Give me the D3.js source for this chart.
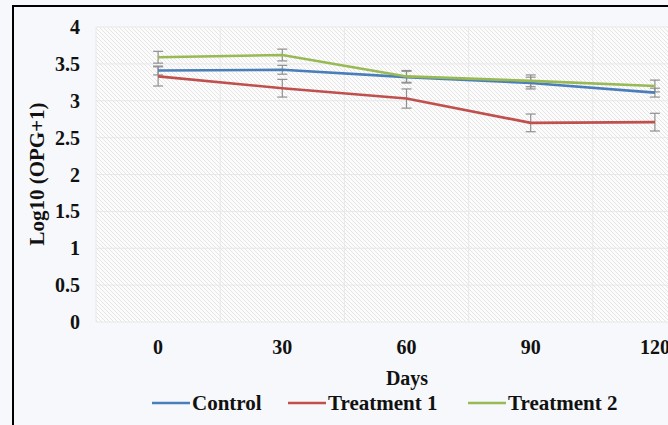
<!DOCTYPE html>
<html>
<head>
<meta charset="utf-8">
<script src="https://cdn.jsdelivr.net/npm/d3@7"></script>
<style>
  body { margin: 0; background: #f6f8fb; }
  svg { display: block; }
  text { font-family: "Liberation Serif", "Times New Roman", serif; font-weight: bold; fill: #111; }
</style>
</head>
<body>
<div id="chart"></div>
<script>
// data
var days = ["0", "30", "60", "90", "120"];
var control = [3.41, 3.42, 3.32, 3.24, 3.11];
var treatment1 = [3.33, 3.17, 3.03, 2.70, 2.71];
var treatment2 = [3.59, 3.62, 3.33, 3.27, 3.20];
var controlErr = [0.06, 0.06, 0.08, 0.08, 0.06];
var treatment1Err = [0.13, 0.12, 0.13, 0.12, 0.12];
var treatment2Err = [0.08, 0.08, 0.08, 0.08, 0.08];
var yTicks = [0, 0.5, 1, 1.5, 2, 2.5, 3, 3.5, 4];
var seriesNames = ["Control", "Treatment 1", "Treatment 2"];

var width = 668, height = 425;
var colors = ["#4a7ebb", "#c0504d", "#98b954"];

var series = [
  { name: seriesNames[0], values: control, err: controlErr },
  { name: seriesNames[1], values: treatment1, err: treatment1Err },
  { name: seriesNames[2], values: treatment2, err: treatment2Err }
];

var svg = d3.select("#chart")
  .append("svg")
  .attr("width", width)
  .attr("height", height);

// hatch pattern for the plot area
var defs = svg.append("defs");
var pat = defs.append("pattern")
  .attr("id", "hatch")
  .attr("patternUnits", "userSpaceOnUse")
  .attr("width", 4)
  .attr("height", 4);
pat.append("rect").attr("width", 4).attr("height", 4).attr("fill", "#fcfcfc");
pat.append("path")
  .attr("d", "M-1,-1 L5,5 M-1,3 L1,5 M3,-1 L5,1")
  .attr("stroke", "#e5e5e5")
  .attr("stroke-width", 1);

// outer frame (right and bottom edges fall outside the picture)
svg.append("rect")
  .attr("x", 13).attr("y", 6)
  .attr("width", 700).attr("height", 440)
  .attr("fill", "#f6f8fb")
  .attr("stroke", "#000")
  .attr("stroke-width", 2);

var x = d3.scaleBand()
  .domain(days)
  .range([96, 96 + 5 * 124.2]);

var y = d3.scaleLinear()
  .domain([0, 4])
  .range([322, 27]);

// plot area
svg.append("rect")
  .attr("x", x.range()[0])
  .attr("y", y(4))
  .attr("width", x.range()[1] - x.range()[0])
  .attr("height", y(0) - y(4))
  .attr("fill", "url(#hatch)");

// grid lines
svg.append("g")
  .selectAll("line")
  .data(yTicks)
  .enter().append("line")
  .attr("x1", x.range()[0])
  .attr("x2", x.range()[1])
  .attr("y1", function(d) { return y(d); })
  .attr("y2", function(d) { return y(d); })
  .attr("stroke", "#e8e8e8")
  .attr("stroke-width", 1);

svg.append("g")
  .selectAll("line")
  .data(days)
  .enter().append("line")
  .attr("x1", function(d) { return x(d); })
  .attr("x2", function(d) { return x(d); })
  .attr("y1", y(0))
  .attr("y2", y(4))
  .attr("stroke", "#e8e8e8")
  .attr("stroke-width", 1);

// y tick labels
svg.append("g")
  .selectAll("text")
  .data(yTicks)
  .enter().append("text")
  .attr("x", 80)
  .attr("y", function(d) { return y(d) + 7; })
  .attr("text-anchor", "end")
  .style("font-size", "20px")
  .text(function(d) { return d; });

// x tick labels (last one is cut by the picture edge, as in the source)
svg.append("g")
  .selectAll("text")
  .data(days)
  .enter().append("text")
  .attr("x", function(d) { return x(d) + x.bandwidth() / 2; })
  .attr("y", 354)
  .attr("text-anchor", "middle")
  .style("font-size", "20px")
  .text(function(d) { return d; });

// axis titles
svg.append("text")
  .attr("x", 407)
  .attr("y", 385)
  .attr("text-anchor", "middle")
  .style("font-size", "20px")
  .text("Days");

svg.append("text")
  .attr("transform", "translate(44,174) rotate(-90)")
  .attr("text-anchor", "middle")
  .style("font-size", "21px")
  .text("Log10 (OPG+1)");

var cx = function(i) { return x(days[i]) + x.bandwidth() / 2; };

var line = d3.line()
  .x(function(d, i) { return cx(i); })
  .y(function(d) { return y(d); });

// error bars
series.forEach(function(s) {
  var g = svg.append("g")
    .attr("stroke", "#8f8f8f")
    .attr("stroke-width", 1.2);
  s.values.forEach(function(v, i) {
    g.append("line")
      .attr("x1", cx(i)).attr("x2", cx(i))
      .attr("y1", y(v - s.err[i])).attr("y2", y(v + s.err[i]));
    [v - s.err[i], v + s.err[i]].forEach(function(e) {
      g.append("line")
        .attr("x1", cx(i) - 5).attr("x2", cx(i) + 5)
        .attr("y1", y(e)).attr("y2", y(e));
    });
  });
});

// series lines
series.forEach(function(s, k) {
  svg.append("path")
    .datum(s.values)
    .attr("d", line)
    .attr("fill", "none")
    .attr("stroke", colors[k])
    .attr("stroke-width", 2.6);
});

// legend
var legendX = [152, 288, 468];
var legend = svg.append("g");
series.forEach(function(s, k) {
  legend.append("line")
    .attr("x1", legendX[k]).attr("x2", legendX[k] + 38)
    .attr("y1", 403).attr("y2", 403)
    .attr("stroke", colors[k])
    .attr("stroke-width", 2.4);
  legend.append("text")
    .attr("x", legendX[k] + 40)
    .attr("y", 410)
    .style("font-size", "21px")
    .text(s.name);
});
</script>
</body>
</html>
